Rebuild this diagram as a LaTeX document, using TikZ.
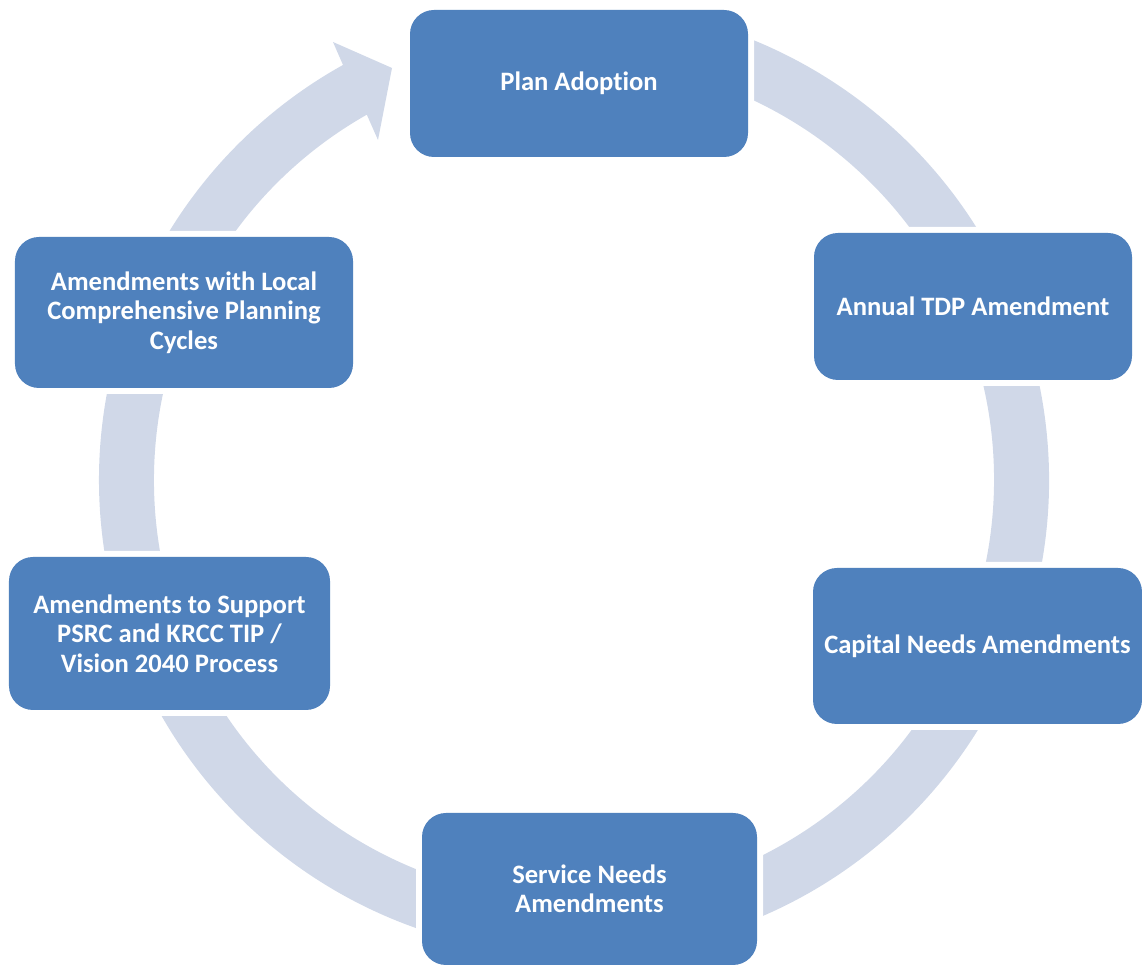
\documentclass[tikz,border=0pt]{standalone}
\usepackage{fontspec}
\setmainfont{Carlito}[Ligatures=NoCommon]
\usetikzlibrary{calc}
\definecolor{boxblue}{HTML}{4F81BD}
\definecolor{ringgray}{HTML}{D0D8E8}
\tikzset{
  stagebox/.style={rectangle, rounded corners=24bp, fill=boxblue,
    preaction={draw=white, line width=12bp},
    text=white, font=\fontsize{26.7}{29.5}\selectfont\bfseries,
    align=center, inner sep=0pt},
  ringshape/.style={fill=ringgray, draw=none}
}
\begin{document}
\begin{tikzpicture}[x=1bp,y=1bp]
\useasboundingbox (0,0) rectangle (1142,965);
\coordinate (c) at (574,485);
% ring with arrow head
\fill[ringshape] ($(c)+(100:475)$) arc[start angle=100, end angle=-240.9, radius=475]
  -- (333,923) -- (392,897) -- (378,825)
  -- ($(c)+(-240.44:420)$) arc[start angle=-240.44, end angle=100, radius=420] -- cycle;
% boxes
\node[stagebox, minimum width=338bp, minimum height=147bp] (plan) at (579,881.5) {Plan Adoption};
\node[stagebox, minimum width=318bp, minimum height=147bp] (annual) at (973,658.5) {Annual TDP Amendment};
\node[stagebox, minimum width=329bp, minimum height=156bp] (capital) at (977.5,319) {Capital Needs Amendments};
\node[stagebox, minimum width=335bp, minimum height=152bp] (service) at (589.5,76) {Service Needs\\Amendments};
\node[stagebox, minimum width=321bp, minimum height=153bp] (psrc) at (169.5,331.5) {Amendments to Support\\PSRC and KRCC TIP /\\Vision 2040 Process};
\node[stagebox, minimum width=338bp, minimum height=151bp] (local) at (184,652.5) {Amendments with Local\\Comprehensive Planning\\Cycles};
\end{tikzpicture}
\end{document}
